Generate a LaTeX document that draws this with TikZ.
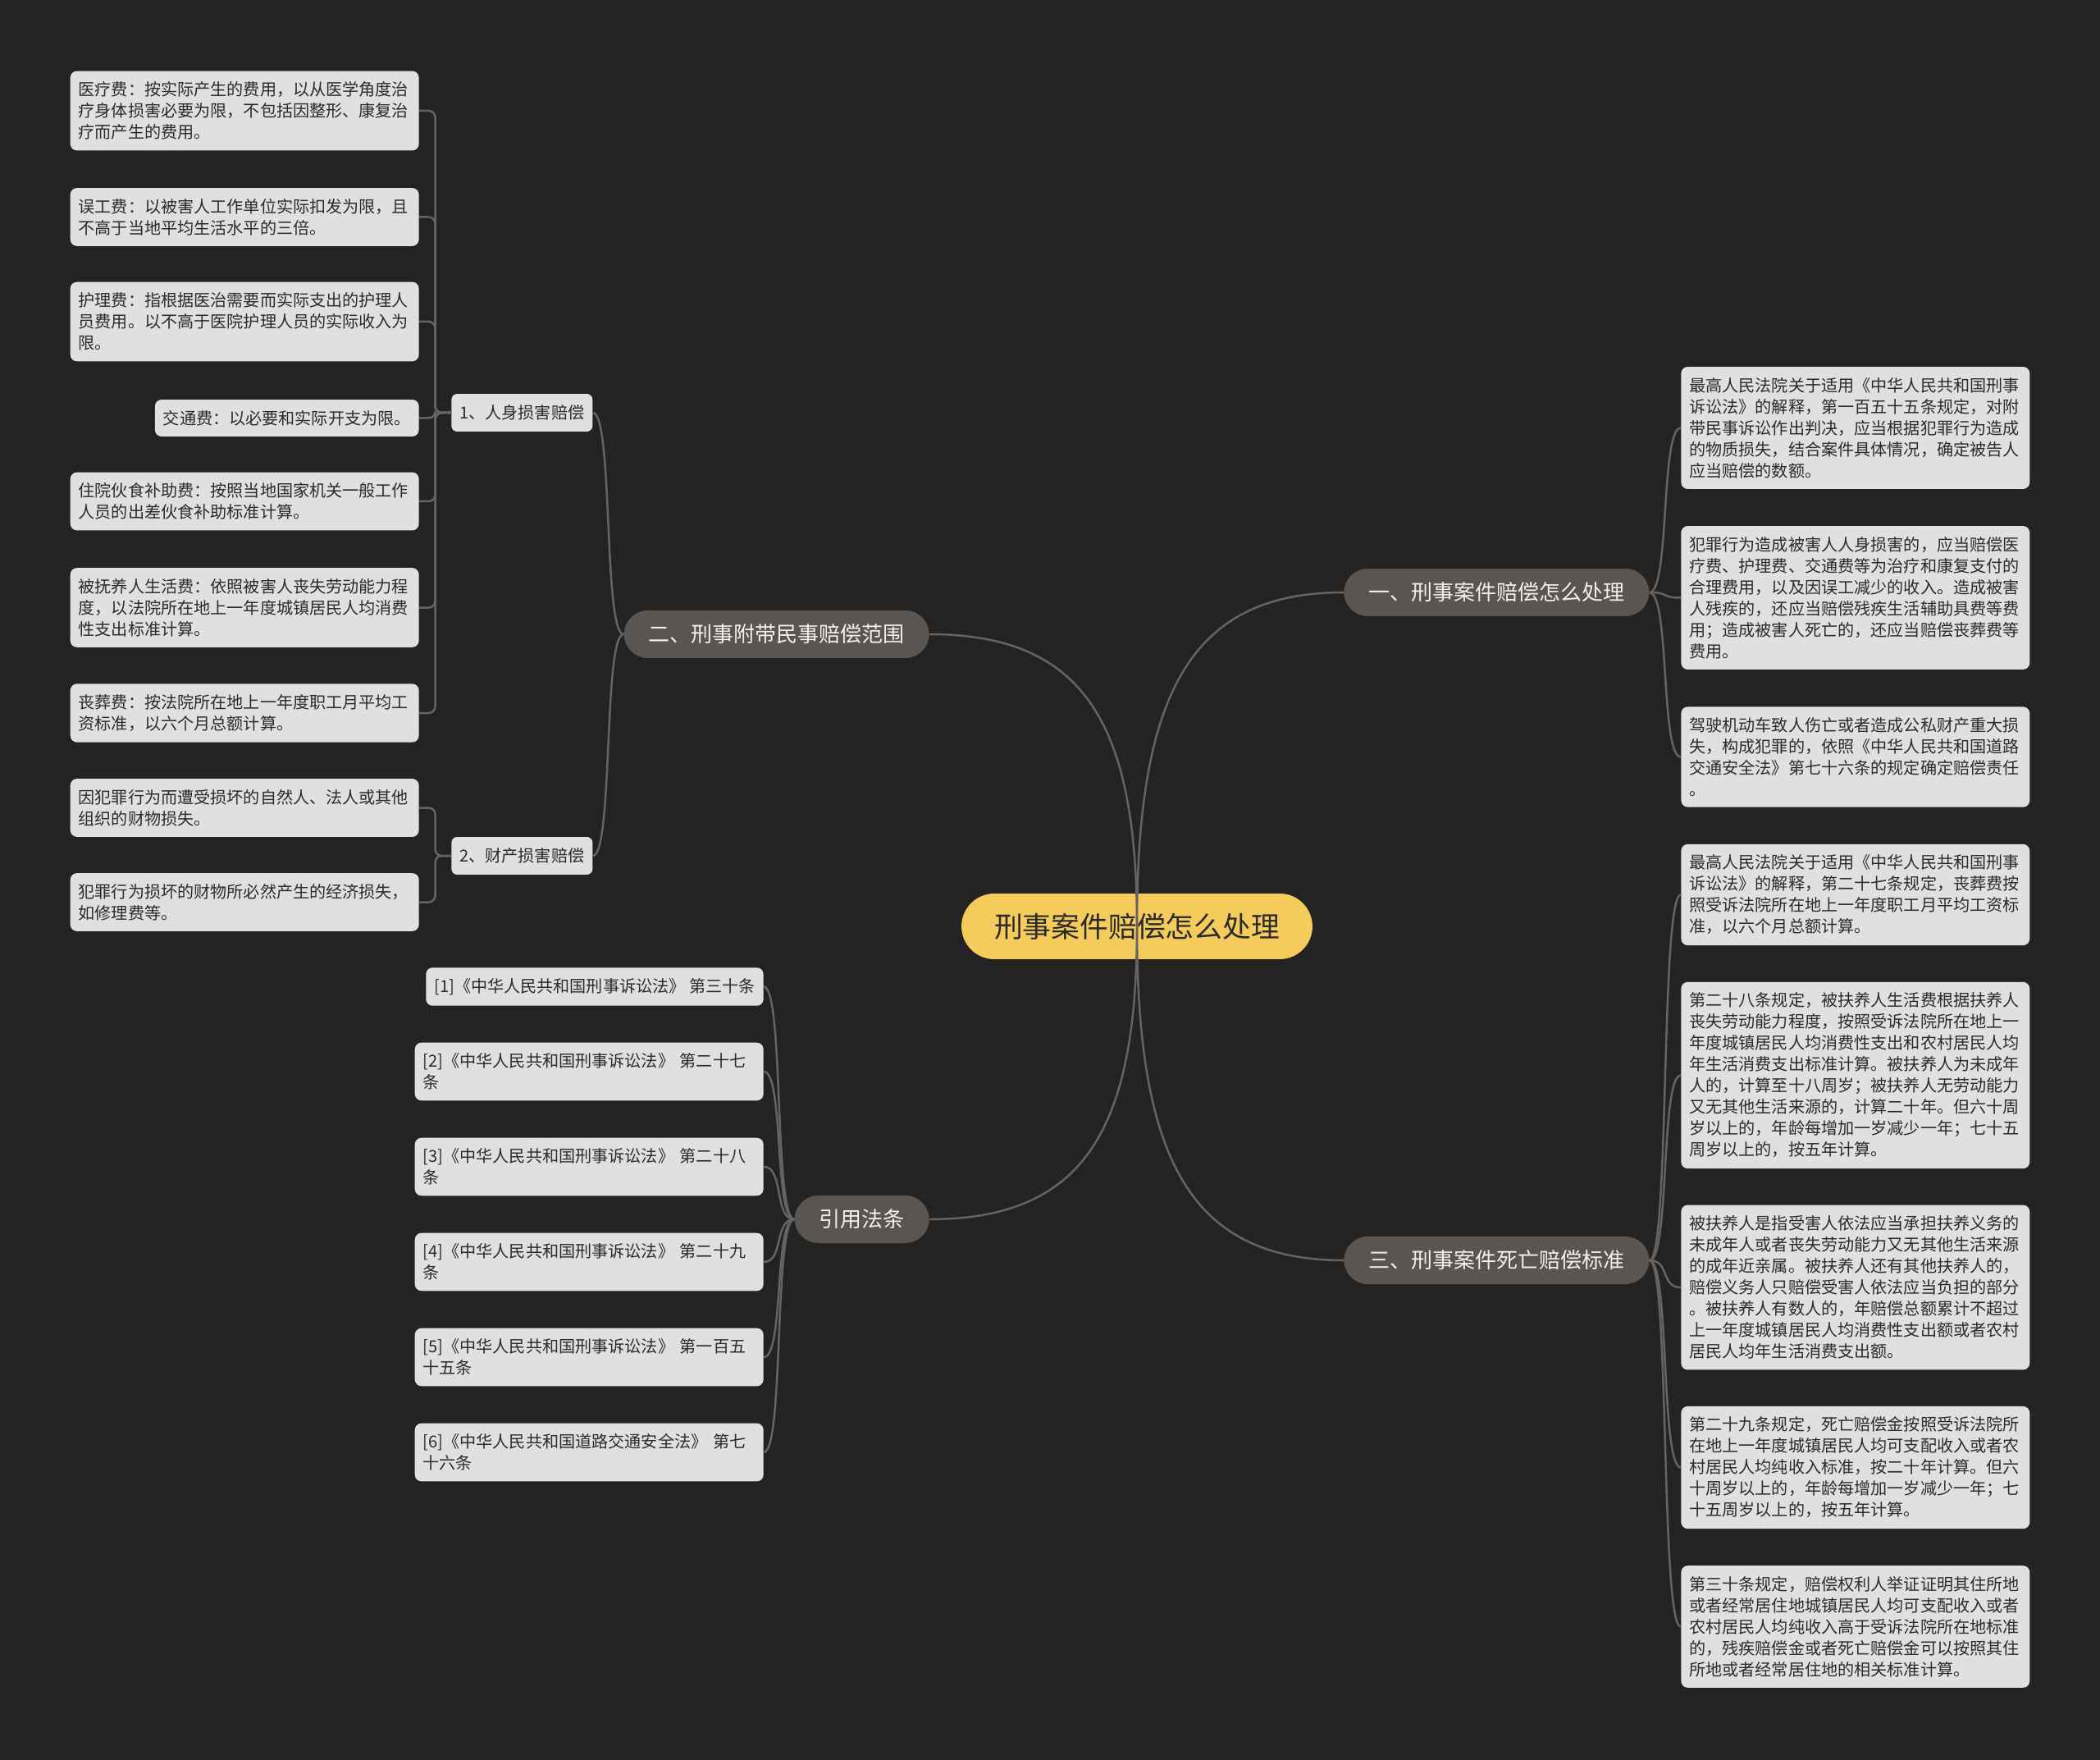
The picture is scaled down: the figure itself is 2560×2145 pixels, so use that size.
\documentclass[tikz,border=0pt]{standalone}
\usepackage{fontspec}
\setmainfont{Noto Sans CJK SC}
\usepackage{xcolor}
\usepackage{tikz}
\usetikzlibrary{calc}

\definecolor{canvas}{HTML}{232323}
\definecolor{rootfill}{HTML}{F5CB5C}
\definecolor{branchfill}{HTML}{5A5551}
\definecolor{leaffill}{HTML}{E0E0E0}
\definecolor{inktext}{HTML}{2B2B2B}
\definecolor{linkgray}{HTML}{646464}

\newcommand{\leaffont}{\fontsize{11.45pt}{14.8pt}\selectfont}
\newcommand{\branchfont}{\fontsize{14.8pt}{17pt}\selectfont}
\newcommand{\rootfont}{\fontsize{19.8pt}{23pt}\selectfont}

\begin{document}
\begin{tikzpicture}[
  x=0.02cm, y=-0.02cm,
  rootnode/.style={fill=rootfill, text=inktext, font=\rootfont, rounded corners=0.8cm, minimum height=1.6cm, inner xsep=0.8cm},
  branchnode/.style={fill=branchfill, text=white!94!black, font=\branchfont, rounded corners=0.58cm, minimum height=1.16cm, inner xsep=0.6cm},
  subnode/.style={fill=leaffill, text=inktext, font=\leaffont, rounded corners=0.14cm, minimum height=0.92cm, inner xsep=0.2cm},
  leafnode/.style={fill=leaffill, text=inktext, font=\leaffont, rounded corners=0.16cm, inner xsep=0.2cm, inner ysep=0.26cm, align=left},
  wide/.style={leafnode, text width=8.1cm},
  link/.style={draw=linkgray, line width=0.05cm}
]
  % Canvas
  \fill[canvas] (0,0) rectangle (2560,2145);

  % Branches
  \node[branchnode, anchor=west] (b1) at (1638,722) {一、刑事案件赔偿怎么处理};
  \node[branchnode, anchor=east] (b2) at (1133,773) {二、刑事附带民事赔偿范围};
  \node[branchnode, anchor=west] (b3) at (1638,1536) {三、刑事案件死亡赔偿标准};
  \node[branchnode, anchor=east] (b4) at (1133,1486) {引用法条};

  % Sub topics
  \node[subnode, anchor=west] (s1) at (550,503) {1、人身损害赔偿};
  \node[subnode, anchor=west] (s2) at (550,1043) {2、财产损害赔偿};

  % Personal injury items
  \node[wide, anchor=east] (l1) at (511,135) {医疗费：按实际产生的费用，以从医学角度治\\疗身体损害必要为限，不包括因整形、康复治\\疗而产生的费用。};
  \node[wide, anchor=east] (l2) at (511,264.5) {误工费：以被害人工作单位实际扣发为限，且\\不高于当地平均生活水平的三倍。};
  \node[wide, anchor=east] (l3) at (511,392) {护理费：指根据医治需要而实际支出的护理人\\员费用。以不高于医院护理人员的实际收入为\\限。};
  \node[leafnode, anchor=east] (l4) at (511,509.5) {交通费：以必要和实际开支为限。};
  \node[wide, anchor=east] (l5) at (511,611) {住院伙食补助费：按照当地国家机关一般工作\\人员的出差伙食补助标准计算。};
  \node[wide, anchor=east] (l6) at (511,740.5) {被抚养人生活费：依照被害人丧失劳动能力程\\度，以法院所在地上一年度城镇居民人均消费\\性支出标准计算。};
  \node[wide, anchor=east] (l7) at (511,869) {丧葬费：按法院所在地上一年度职工月平均工\\资标准，以六个月总额计算。};

  % Property items
  \node[wide, anchor=east] (p1) at (511,984.5) {因犯罪行为而遭受损坏的自然人、法人或其他\\组织的财物损失。};
  \node[wide, anchor=east] (p2) at (511,1099.5) {犯罪行为损坏的财物所必然产生的经济损失，\\如修理费等。};

  % Citations
  \node[leafnode, anchor=east] (c1) at (931,1202.5) {[1]《中华人民共和国刑事诉讼法》 第三十条};
  \node[wide, anchor=east] (c2) at (931,1306) {[2]《中华人民共和国刑事诉讼法》 第二十七\\条};
  \node[wide, anchor=east] (c3) at (931,1422) {[3]《中华人民共和国刑事诉讼法》 第二十八\\条};
  \node[wide, anchor=east] (c4) at (931,1538) {[4]《中华人民共和国刑事诉讼法》 第二十九\\条};
  \node[wide, anchor=east] (c5) at (931,1654) {[5]《中华人民共和国刑事诉讼法》 第一百五\\十五条};
  \node[wide, anchor=east] (c6) at (931,1770) {[6]《中华人民共和国道路交通安全法》 第七\\十六条};

  % Branch one items
  \node[wide, anchor=west] (r1) at (2049,521.5) {最高人民法院关于适用《中华人民共和国刑事\\诉讼法》的解释，第一百五十五条规定，对附\\带民事诉讼作出判决，应当根据犯罪行为造成\\的物质损失，结合案件具体情况，确定被告人\\应当赔偿的数额。};
  \node[wide, anchor=west] (r2) at (2049,728.5) {犯罪行为造成被害人人身损害的，应当赔偿医\\疗费、护理费、交通费等为治疗和康复支付的\\合理费用，以及因误工减少的收入。造成被害\\人残疾的，还应当赔偿残疾生活辅助具费等费\\用；造成被害人死亡的，还应当赔偿丧葬费等\\费用。};
  \node[wide, anchor=west] (r3) at (2049,922.5) {驾驶机动车致人伤亡或者造成公私财产重大损\\失，构成犯罪的，依照《中华人民共和国道路\\交通安全法》第七十六条的规定确定赔偿责任\\。};

  % Branch three items
  \node[wide, anchor=west] (t1) at (2049,1090.5) {最高人民法院关于适用《中华人民共和国刑事\\诉讼法》的解释，第二十七条规定，丧葬费按\\照受诉法院所在地上一年度职工月平均工资标\\准，以六个月总额计算。};
  \node[wide, anchor=west] (t2) at (2049,1310.5) {第二十八条规定，被扶养人生活费根据扶养人\\丧失劳动能力程度，按照受诉法院所在地上一\\年度城镇居民人均消费性支出和农村居民人均\\年生活消费支出标准计算。被扶养人为未成年\\人的，计算至十八周岁；被扶养人无劳动能力\\又无其他生活来源的，计算二十年。但六十周\\岁以上的，年龄每增加一岁减少一年；七十五\\周岁以上的，按五年计算。};
  \node[wide, anchor=west] (t3) at (2049,1569) {被扶养人是指受害人依法应当承担扶养义务的\\未成年人或者丧失劳动能力又无其他生活来源\\的成年近亲属。被扶养人还有其他扶养人的，\\赔偿义务人只赔偿受害人依法应当负担的部分\\。被扶养人有数人的，年赔偿总额累计不超过\\上一年度城镇居民人均消费性支出额或者农村\\居民人均年生活消费支出额。};
  \node[wide, anchor=west] (t4) at (2049,1788.5) {第二十九条规定，死亡赔偿金按照受诉法院所\\在地上一年度城镇居民人均可支配收入或者农\\村居民人均纯收入标准，按二十年计算。但六\\十周岁以上的，年龄每增加一岁减少一年；七\\十五周岁以上的，按五年计算。};
  \node[wide, anchor=west] (t5) at (2049,1982.5) {第三十条规定，赔偿权利人举证证明其住所地\\或者经常居住地城镇居民人均可支配收入或者\\农村居民人均纯收入高于受诉法院所在地标准\\的，残疾赔偿金或者死亡赔偿金可以按照其住\\所地或者经常居住地的相关标准计算。};

  % Links to leaves
  \foreach \l in {r1,r2,r3}
    \draw[link] (b1.east) .. controls +(25,0) and +(-25,0) .. (\l.west);
  \foreach \l in {t1,t2,t3,t4,t5}
    \draw[link] (b3.east) .. controls +(25,0) and +(-25,0) .. (\l.west);
  \foreach \l in {s1,s2}
    \draw[link] (b2.west) .. controls +(-25,0) and +(25,0) .. (\l.east);
  \foreach \i in {1,...,6}
    \draw[link] (b4.west) .. controls +(-25,0) and +(25,0) .. (c\i.east);
  \foreach \i in {1,...,7}
    \draw[link, rounded corners=0.16cm] (s1.west) -- ++(-19.5,0) |- (l\i.east);
  \foreach \i in {1,2}
    \draw[link, rounded corners=0.16cm] (s2.west) -- ++(-19.5,0) |- (p\i.east);

  % Root and its links
  \node[rootnode] (root) at (1386,1129) {刑事案件赔偿怎么处理};
  \foreach \b/\a in {b1/west, b2/east, b3/west, b4/east}
    \draw[link] (root.center) .. controls ($(root.center)!0.69!(root.center |- \b.\a)$) and ($(root.center |- \b.\a)!0.25!(\b.\a)$) .. (\b.\a);
\end{tikzpicture}
\end{document}
